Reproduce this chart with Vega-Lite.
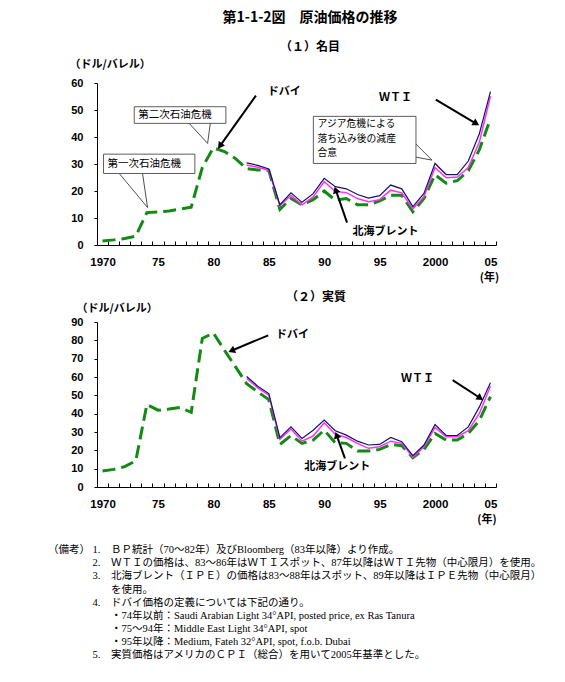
{
"$schema": "https://vega.github.io/schema/vega-lite/v6.json",
"background": "white",
"padding": {"left": 48, "top": 11, "right": 5, "bottom": 5},
"config": {"view": {"stroke": null}, "font": "Noto Sans CJK JP"},
"spacing": 8,
"title": {
 "text": [
  "（備考） 1.　ＢＰ統計（70～82年）及びBloomberg（83年以降）より作成。",
  "​　　　　 2.　ＷＴＩの価格は、83～86年はＷＴＩスポット、87年以降はＷＴＩ先物（中心限月）を使用。",
  "​　　　　 3.　北海ブレント（ＩＰＥ）の価格は83～88年はスポット、89年以降はＩＰＥ先物（中心限月）",
  "​　　　　　　を使用。",
  "​　　　　 4.　ドバイ価格の定義については下記の通り。",
  "​　　　　　　・74年以前：Saudi Arabian Light 34°API, posted price, ex Ras Tanura",
  "​　　　　　　・75～94年：Middle East Light 34°API, spot",
  "​　　　　　　・95年以降：Medium, Fateh 32°API, spot, f.o.b. Dubai",
  "​　　　　 5.　実質価格はアメリカのＣＰＩ（総合）を用いて2005年基準とした。"
 ],
 "orient": "bottom", "anchor": "start", "dx": -21, "offset": 21,
 "font": "Liberation Serif, Noto Sans CJK JP", "fontSize": 10.5, "fontWeight": "normal",
 "lineHeight": 13.1, "color": "black"
},
"datasets": {
 "prices": [
  {"year":1970,"s":"ドバイ","n":1.5,"r":8.7},
  {"year":1971,"s":"ドバイ","n":1.9,"r":9.6},
  {"year":1972,"s":"ドバイ","n":2.4,"r":11.1},
  {"year":1973,"s":"ドバイ","n":3.3,"r":14.3},
  {"year":1974,"s":"ドバイ","n":12.0,"r":45.0},
  {"year":1975,"s":"ドバイ","n":12.2,"r":41.9},
  {"year":1976,"s":"ドバイ","n":12.6,"r":42.5},
  {"year":1977,"s":"ドバイ","n":13.3,"r":43.4},
  {"year":1978,"s":"ドバイ","n":14.0,"r":40.7},
  {"year":1979,"s":"ドバイ","n":28.7,"r":81.0},
  {"year":1980,"s":"ドバイ","n":36.0,"r":84.0},
  {"year":1981,"s":"ドバイ","n":34.6,"r":74.6},
  {"year":1982,"s":"ドバイ","n":32.0,"r":65.5},
  {"year":1983,"s":"ドバイ","n":28.3,"r":56.4},
  {"year":1984,"s":"ドバイ","n":27.8,"r":51.9},
  {"year":1985,"s":"ドバイ","n":27.6,"r":47.7},
  {"year":1986,"s":"ドバイ","n":13.2,"r":23.2},
  {"year":1987,"s":"ドバイ","n":17.2,"r":28.0},
  {"year":1988,"s":"ドバイ","n":14.9,"r":23.8},
  {"year":1989,"s":"ドバイ","n":16.8,"r":25.6},
  {"year":1990,"s":"ドバイ","n":20.0,"r":31.0},
  {"year":1991,"s":"ドバイ","n":16.6,"r":24.1},
  {"year":1992,"s":"ドバイ","n":17.2,"r":23.8},
  {"year":1993,"s":"ドバイ","n":14.9,"r":19.6},
  {"year":1994,"s":"ドバイ","n":14.9,"r":19.6},
  {"year":1995,"s":"ドバイ","n":16.3,"r":20.5},
  {"year":1996,"s":"ドバイ","n":18.4,"r":23.2},
  {"year":1997,"s":"ドバイ","n":18.4,"r":22.5},
  {"year":1998,"s":"ドバイ","n":12.3,"r":16.0},
  {"year":1999,"s":"ドバイ","n":17.2,"r":20.5},
  {"year":2000,"s":"ドバイ","n":26.0,"r":29.2},
  {"year":2001,"s":"ドバイ","n":22.9,"r":25.6},
  {"year":2002,"s":"ドバイ","n":23.8,"r":25.6},
  {"year":2003,"s":"ドバイ","n":27.5,"r":29.2},
  {"year":2004,"s":"ドバイ","n":35.3,"r":36.3},
  {"year":2005,"s":"ドバイ","n":46.8,"r":49.3},
  {"year":1983,"s":"WTI","n":30.4,"r":60.3},
  {"year":1984,"s":"WTI","n":29.5,"r":55.0},
  {"year":1985,"s":"WTI","n":28.2,"r":51.0},
  {"year":1986,"s":"WTI","n":14.9,"r":26.9},
  {"year":1987,"s":"WTI","n":19.3,"r":32.8},
  {"year":1988,"s":"WTI","n":15.8,"r":26.5},
  {"year":1989,"s":"WTI","n":19.0,"r":31.0},
  {"year":1990,"s":"WTI","n":24.7,"r":36.5},
  {"year":1991,"s":"WTI","n":21.6,"r":30.7},
  {"year":1992,"s":"WTI","n":20.8,"r":28.3},
  {"year":1993,"s":"WTI","n":18.7,"r":25.0},
  {"year":1994,"s":"WTI","n":17.4,"r":22.9},
  {"year":1995,"s":"WTI","n":18.3,"r":23.2},
  {"year":1996,"s":"WTI","n":22.2,"r":27.0},
  {"year":1997,"s":"WTI","n":20.8,"r":24.7},
  {"year":1998,"s":"WTI","n":14.2,"r":17.1},
  {"year":1999,"s":"WTI","n":19.1,"r":22.9},
  {"year":2000,"s":"WTI","n":30.2,"r":34.1},
  {"year":2001,"s":"WTI","n":26.1,"r":28.1},
  {"year":2002,"s":"WTI","n":26.1,"r":28.1},
  {"year":2003,"s":"WTI","n":31.1,"r":32.8},
  {"year":2004,"s":"WTI","n":41.2,"r":43.7},
  {"year":2005,"s":"WTI","n":56.8,"r":56.8},
  {"year":1983,"s":"北海ブレント","n":29.6,"r":59.2},
  {"year":1984,"s":"北海ブレント","n":28.8,"r":54.1},
  {"year":1985,"s":"北海ブレント","n":27.7,"r":50.1},
  {"year":1986,"s":"北海ブレント","n":14.5,"r":26.0},
  {"year":1987,"s":"北海ブレント","n":18.4,"r":31.6},
  {"year":1988,"s":"北海ブレント","n":14.9,"r":25.0},
  {"year":1989,"s":"北海ブレント","n":17.8,"r":27.8},
  {"year":1990,"s":"北海ブレント","n":23.5,"r":35.0},
  {"year":1991,"s":"北海ブレント","n":19.8,"r":28.7},
  {"year":1992,"s":"北海ブレント","n":19.4,"r":27.0},
  {"year":1993,"s":"北海ブレント","n":17.2,"r":23.8},
  {"year":1994,"s":"北海ブレント","n":16.0,"r":21.1},
  {"year":1995,"s":"北海ブレント","n":16.8,"r":22.0},
  {"year":1996,"s":"北海ブレント","n":20.3,"r":25.0},
  {"year":1997,"s":"北海ブレント","n":19.3,"r":23.8},
  {"year":1998,"s":"北海ブレント","n":13.4,"r":16.3},
  {"year":1999,"s":"北海ブレント","n":17.9,"r":22.0},
  {"year":2000,"s":"北海ブレント","n":28.7,"r":32.5},
  {"year":2001,"s":"北海ブレント","n":24.9,"r":27.4},
  {"year":2002,"s":"北海ブレント","n":25.2,"r":27.4},
  {"year":2003,"s":"北海ブレント","n":28.7,"r":30.7},
  {"year":2004,"s":"北海ブレント","n":38.1,"r":40.1},
  {"year":2005,"s":"北海ブレント","n":55.1,"r":55.0}
 ],
 "wedges1": [
  {"x":1971.51,"y":26.49,"x2":1974.06,"y2":13.88},
  {"x":1973.61,"y":26.49,"x2":1974.06,"y2":13.88},
  {"x":1977.82,"y":45.05,"x2":1979.48,"y2":37.63},
  {"x":1979.72,"y":45.05,"x2":1979.48,"y2":37.63},
  {"x":1998.28,"y":37.37,"x2":1999.72,"y2":31.43},
  {"x":1998.28,"y":32.54,"x2":1999.72,"y2":31.43}
 ],
 "boxes1": [
  {"x":1970.09,"x2":1978.33,"y":33.65,"y2":26.49},
  {"x":1972.86,"x2":1981.13,"y":51.21,"y2":45.05},
  {"x":1989.02,"x2":1998.28,"y":47.64,"y2":30.2}
 ],
 "boxtext1": [
  {"x":1970.45,"y":30.06,"t":"第一次石油危機"},
  {"x":1973.22,"y":48.3,"t":"第二次石油危機"}
 ],
 "boxtext2": [
  {"x":1989.4,"y":46.6,"t":"アジア危機による\n落ち込み後の減産\n合意"}
 ],
 "arrows1": [
  {"k":"d","x":1983.84,"y":55.32,"x2":1980.65,"y2":37.0},
  {"k":"w","x":2000.07,"y":53.82,"x2":2003.63,"y2":45.17},
  {"k":"b","x":1992.06,"y":8.3,"x2":1991.07,"y2":20.03}
 ],
 "labels1": [
  {"x":1984.9,"y":56.7,"t":"ドバイ"},
  {"x":1994.94,"y":54.3,"t":"ＷＴＩ"},
  {"x":1992.56,"y":4.8,"t":"北海ブレント"}
 ],
 "arrows2": [
  {"k":"d","x":1984.95,"y":82.74,"x2":1981.73,"y2":74.58},
  {"k":"w","x":2001.59,"y":58.25,"x2":2004.0,"y2":48.83},
  {"k":"b","x":1991.87,"y":15.62,"x2":1991.15,"y2":27.76}
 ],
 "labels2": [
  {"x":1985.64,"y":82.7,"t":"ドバイ"},
  {"x":1996.92,"y":58.8,"t":"ＷＴＩ"},
  {"x":1988.2,"y":11.1,"t":"北海ブレント"}
 ]
},
"vconcat": [
 {
  "width": 399, "height": 162,
  "title": {"text": "第1-1-2図　原油価格の推移", "subtitle": "（１）名目", "anchor": "middle", "frame": "group", "dx": 13.5, "offset": 5,
   "font": "Noto Sans CJK JP", "fontSize": 14, "fontWeight": "bold", "color": "black",
   "subtitleFont": "Noto Sans CJK JP", "subtitleFontSize": 12, "subtitleFontWeight": "bold", "subtitleColor": "black", "subtitlePadding": 17},
  "resolve": {"axis": {"x": "independent", "y": "independent"}},
  "layer": [
   {"data": {"name": "prices"}, "transform": [{"filter": "datum.s === 'ドバイ'"}],
    "mark": {"type": "line", "color": "#138a13", "strokeWidth": 3, "strokeDash": [13, 6]},
    "encoding": {
     "x": {"field": "year", "type": "quantitative", "scale": {"domain": [1969.5, 2005.5], "nice": false, "zero": false},
      "axis": {"orient": "bottom", "values": [1969.5,1970.5,1971.5,1972.5,1973.5,1974.5,1975.5,1976.5,1977.5,1978.5,1979.5,1980.5,1981.5,1982.5,1983.5,1984.5,1985.5,1986.5,1987.5,1988.5,1989.5,1990.5,1991.5,1992.5,1993.5,1994.5,1995.5,1996.5,1997.5,1998.5,1999.5,2000.5,2001.5,2002.5,2003.5,2004.5,2005.5],
       "tickSize": -4, "tickColor": "black", "domainColor": "black", "grid": false,
       "labelExpr": "(datum.value + 0.5) % 5 == 0 ? ((datum.value + 0.5) == 1970 || (datum.value + 0.5) == 2000 ? toString(datum.value + 0.5) : substring(toString(datum.value + 0.5), 2)) : ''",
       "labelOffset": 5.54, "labelOverlap": false, "labelBound": false, "labelFlush": false, "labelPadding": 15,
       "labelFont": "Liberation Sans", "labelFontSize": 11.5, "labelFontWeight": "bold", "labelColor": "black",
       "title": "(年)", "titleX": 392, "titleY": 32.6, "titleAlign": "center", "titleBaseline": "middle",
       "titleFont": "Noto Sans CJK JP", "titleFontSize": 11, "titleFontWeight": "bold", "titleColor": "black"}},
     "y": {"field": "n", "type": "quantitative", "scale": {"domain": [0, 60], "nice": false},
      "axis": {"orient": "left", "values": [0,10,20,30,40,50,60], "tickSize": 3, "tickColor": "black", "domainColor": "black", "grid": false,
       "labelFont": "Liberation Sans", "labelFontSize": 11, "labelFontWeight": "bold", "labelColor": "black", "labelPadding": 11,
       "title": "（ドル/バレル）", "titleAngle": 0, "titleAlign": "left", "titleBaseline": "middle", "titleX": -28, "titleY": -19,
       "titleFont": "Noto Sans CJK JP", "titleFontSize": 11, "titleFontWeight": "bold", "titleColor": "black"}}
    }},
   {"data": {"name": "prices"}, "transform": [{"filter": "datum.s === '北海ブレント'"}],
    "mark": {"type": "line", "color": "#ff2eff", "strokeWidth": 1.5},
    "encoding": {"x": {"field": "year", "type": "quantitative", "axis": null}, "y": {"field": "n", "type": "quantitative", "axis": null}}},
   {"data": {"name": "prices"}, "transform": [{"filter": "datum.s === 'WTI'"}],
    "mark": {"type": "line", "color": "#141460", "strokeWidth": 1.2},
    "encoding": {"x": {"field": "year", "type": "quantitative", "axis": null}, "y": {"field": "n", "type": "quantitative", "axis": null}}},
   {"data": {"name": "wedges1"}, "mark": {"type": "rule", "color": "#222222", "strokeWidth": 0.8},
    "encoding": {"x": {"field": "x", "type": "quantitative", "axis": null}, "y": {"field": "y", "type": "quantitative", "axis": null}, "x2": {"field": "x2"}, "y2": {"field": "y2"}}},
   {"data": {"name": "boxes1"}, "mark": {"type": "rect", "fill": "white", "stroke": "#333333", "strokeWidth": 0.8},
    "encoding": {"x": {"field": "x", "type": "quantitative", "axis": null}, "y": {"field": "y", "type": "quantitative", "axis": null}, "x2": {"field": "x2"}, "y2": {"field": "y2"}}},
   {"data": {"name": "boxtext1"}, "mark": {"type": "text", "align": "left", "baseline": "middle", "font": "Noto Sans CJK JP", "fontSize": 10.5, "color": "black"},
    "encoding": {"x": {"field": "x", "type": "quantitative", "axis": null}, "y": {"field": "y", "type": "quantitative", "axis": null}, "text": {"field": "t"}}},
   {"data": {"name": "boxtext2"}, "mark": {"type": "text", "align": "left", "baseline": "top", "lineBreak": "\n", "lineHeight": 14.4, "font": "Noto Sans CJK JP", "fontSize": 9.8, "color": "black"},
    "encoding": {"x": {"field": "x", "type": "quantitative", "axis": null}, "y": {"field": "y", "type": "quantitative", "axis": null}, "text": {"field": "t"}}},
   {"data": {"name": "arrows1"}, "mark": {"type": "rule", "color": "black", "strokeWidth": 2},
    "encoding": {"x": {"field": "x", "type": "quantitative", "axis": null}, "y": {"field": "y", "type": "quantitative", "axis": null}, "x2": {"field": "x2"}, "y2": {"field": "y2"}}},
   {"data": {"name": "arrows1"}, "transform": [{"filter": "datum.k === 'd'"}], "mark": {"type": "point", "shape": "triangle", "angle": 215.7, "filled": true, "color": "black", "size": 60, "opacity": 1},
    "encoding": {"x": {"field": "x2", "type": "quantitative", "axis": null}, "y": {"field": "y2", "type": "quantitative", "axis": null}}},
   {"data": {"name": "arrows1"}, "transform": [{"filter": "datum.k === 'w'"}], "mark": {"type": "point", "shape": "triangle", "angle": 120.6, "filled": true, "color": "black", "size": 60, "opacity": 1},
    "encoding": {"x": {"field": "x2", "type": "quantitative", "axis": null}, "y": {"field": "y2", "type": "quantitative", "axis": null}}},
   {"data": {"name": "arrows1"}, "transform": [{"filter": "datum.k === 'b'"}], "mark": {"type": "point", "shape": "triangle", "angle": 340.8, "filled": true, "color": "black", "size": 60, "opacity": 1},
    "encoding": {"x": {"field": "x2", "type": "quantitative", "axis": null}, "y": {"field": "y2", "type": "quantitative", "axis": null}}},
   {"data": {"name": "labels1"}, "mark": {"type": "text", "align": "left", "baseline": "middle", "font": "Noto Sans CJK JP", "fontSize": 11, "fontWeight": "bold", "color": "black"},
    "encoding": {"x": {"field": "x", "type": "quantitative", "axis": null}, "y": {"field": "y", "type": "quantitative", "axis": null}, "text": {"field": "t"}}}
  ]
 },
 {
  "width": 399, "height": 165,
  "title": {"text": "（２）実質", "anchor": "middle", "frame": "group", "dx": 19.5, "offset": -1.5,
   "font": "Noto Sans CJK JP", "fontSize": 12, "fontWeight": "bold", "color": "black"},
  "resolve": {"axis": {"x": "independent", "y": "independent"}},
  "layer": [
   {"data": {"name": "prices"}, "transform": [{"filter": "datum.s === 'ドバイ'"}],
    "mark": {"type": "line", "color": "#138a13", "strokeWidth": 3, "strokeDash": [13, 6]},
    "encoding": {
     "x": {"field": "year", "type": "quantitative", "scale": {"domain": [1969.5, 2005.5], "nice": false, "zero": false},
      "axis": {"orient": "bottom", "values": [1969.5,1970.5,1971.5,1972.5,1973.5,1974.5,1975.5,1976.5,1977.5,1978.5,1979.5,1980.5,1981.5,1982.5,1983.5,1984.5,1985.5,1986.5,1987.5,1988.5,1989.5,1990.5,1991.5,1992.5,1993.5,1994.5,1995.5,1996.5,1997.5,1998.5,1999.5,2000.5,2001.5,2002.5,2003.5,2004.5,2005.5],
       "tickSize": -4, "tickColor": "black", "domainColor": "black", "grid": false,
       "labelExpr": "(datum.value + 0.5) % 5 == 0 ? ((datum.value + 0.5) == 1970 || (datum.value + 0.5) == 2000 ? toString(datum.value + 0.5) : substring(toString(datum.value + 0.5), 2)) : ''",
       "labelOffset": 5.54, "labelOverlap": false, "labelBound": false, "labelFlush": false, "labelPadding": 15,
       "labelFont": "Liberation Sans", "labelFontSize": 11.5, "labelFontWeight": "bold", "labelColor": "black",
       "title": "(年)", "titleX": 389.5, "titleY": 32.3, "titleAlign": "center", "titleBaseline": "middle",
       "titleFont": "Noto Sans CJK JP", "titleFontSize": 11, "titleFontWeight": "bold", "titleColor": "black"}},
     "y": {"field": "r", "type": "quantitative", "scale": {"domain": [0, 90], "nice": false},
      "axis": {"orient": "left", "values": [0,10,20,30,40,50,60,70,80,90], "tickSize": 3, "tickColor": "black", "domainColor": "black", "grid": false,
       "labelFont": "Liberation Sans", "labelFontSize": 11, "labelFontWeight": "bold", "labelColor": "black", "labelPadding": 11,
       "title": "（ドル/バレル）", "titleAngle": 0, "titleAlign": "left", "titleBaseline": "middle", "titleX": -21, "titleY": -13.4,
       "titleFont": "Noto Sans CJK JP", "titleFontSize": 11, "titleFontWeight": "bold", "titleColor": "black"}}
    }},
   {"data": {"name": "prices"}, "transform": [{"filter": "datum.s === '北海ブレント'"}],
    "mark": {"type": "line", "color": "#ff2eff", "strokeWidth": 1.5},
    "encoding": {"x": {"field": "year", "type": "quantitative", "axis": null}, "y": {"field": "r", "type": "quantitative", "axis": null}}},
   {"data": {"name": "prices"}, "transform": [{"filter": "datum.s === 'WTI'"}],
    "mark": {"type": "line", "color": "#141460", "strokeWidth": 1.2},
    "encoding": {"x": {"field": "year", "type": "quantitative", "axis": null}, "y": {"field": "r", "type": "quantitative", "axis": null}}},
   {"data": {"name": "arrows2"}, "mark": {"type": "rule", "color": "black", "strokeWidth": 2},
    "encoding": {"x": {"field": "x", "type": "quantitative", "axis": null}, "y": {"field": "y", "type": "quantitative", "axis": null}, "x2": {"field": "x2"}, "y2": {"field": "y2"}}},
   {"data": {"name": "arrows2"}, "transform": [{"filter": "datum.k === 'd'"}], "mark": {"type": "point", "shape": "triangle", "angle": 247.2, "filled": true, "color": "black", "size": 60, "opacity": 1},
    "encoding": {"x": {"field": "x2", "type": "quantitative", "axis": null}, "y": {"field": "y2", "type": "quantitative", "axis": null}}},
   {"data": {"name": "arrows2"}, "transform": [{"filter": "datum.k === 'w'"}], "mark": {"type": "point", "shape": "triangle", "angle": 122.9, "filled": true, "color": "black", "size": 60, "opacity": 1},
    "encoding": {"x": {"field": "x2", "type": "quantitative", "axis": null}, "y": {"field": "y2", "type": "quantitative", "axis": null}}},
   {"data": {"name": "arrows2"}, "transform": [{"filter": "datum.k === 'b'"}], "mark": {"type": "point", "shape": "triangle", "angle": 340.3, "filled": true, "color": "black", "size": 60, "opacity": 1},
    "encoding": {"x": {"field": "x2", "type": "quantitative", "axis": null}, "y": {"field": "y2", "type": "quantitative", "axis": null}}},
   {"data": {"name": "labels2"}, "mark": {"type": "text", "align": "left", "baseline": "middle", "font": "Noto Sans CJK JP", "fontSize": 11, "fontWeight": "bold", "color": "black"},
    "encoding": {"x": {"field": "x", "type": "quantitative", "axis": null}, "y": {"field": "y", "type": "quantitative", "axis": null}, "text": {"field": "t"}}}
  ]
 }
]
}
